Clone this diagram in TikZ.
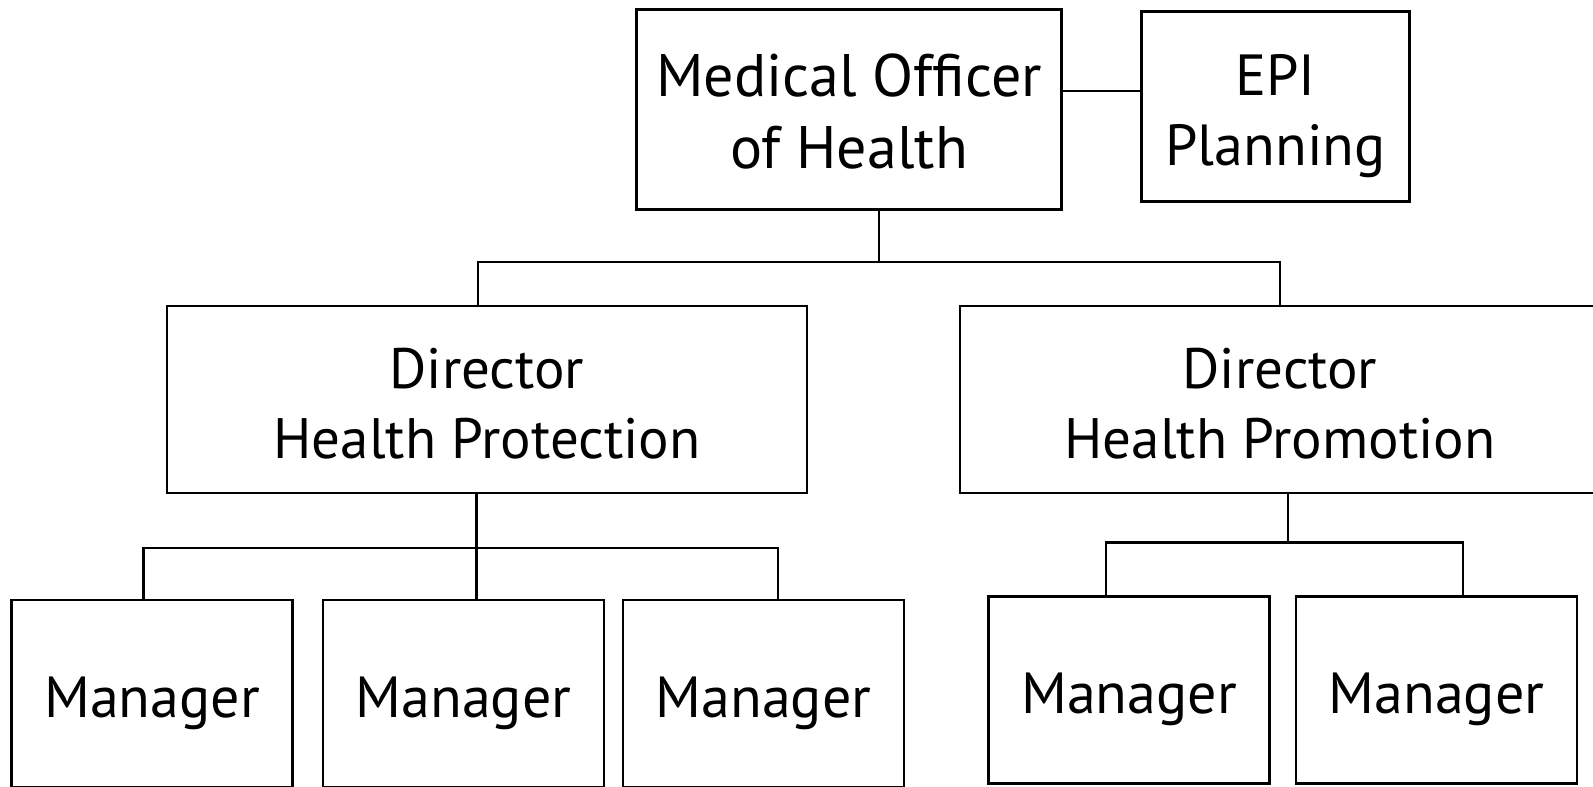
\documentclass[tikz,border=0pt]{standalone}
\usepackage{fontspec}
\setmainfont{PT Sans}
\begin{document}
\begin{tikzpicture}[x=1pt, y=-1pt]
    \tikzset{box/.style={draw, line width=2.6pt, align=center, inner sep=0pt, text depth=0pt, font=\fontsize{57}{70}\selectfont}}
    \tikzset{mgr/.style={box, minimum width=281pt, minimum height=187pt, text height=59pt, text depth=12pt, font=\fontsize{58}{70}\selectfont}}
    \useasboundingbox (0,0) rectangle (1593,787);
    \clip (0,0) rectangle (1593,787);
    \node[box, line width=3.4pt, minimum width=425pt, minimum height=200pt, text height=117pt, font=\fontsize{60}{72}\selectfont] (MOH) at (849,109.5) {Medical Officer\\of Health};
    \node[box, minimum width=268pt, minimum height=190pt, text height=118pt, font=\fontsize{58}{70}\selectfont] (EPI) at (1275.5,106.5) {EPI\\Planning};
    \node[box, minimum width=640pt, minimum height=187pt, text height=117pt] (DP1) at (487,399.5) {Director\\Health Protection};
    \node[box, minimum width=640pt, minimum height=187pt, text height=117pt] (DP2) at (1280,399.5) {Director\\Health Promotion};
    \foreach \n/\x/\y in {1/152/693.5, 2/463.5/693.5, 3/763.5/693.5, 4/1129/690, 5/1436.5/690}
        \node[mgr] (M\n) at (\x,\y) {Manager};
    \coordinate (E) at (1100,91);
    \coordinate (T) at (879,262);
    \coordinate (L) at (476.5,548);
    \coordinate (R) at (1288,542.5);
    \draw[line width=2.6pt] (MOH.east |- E) -- (EPI.west |- E);
    \draw[line width=2.6pt] (MOH.south -| T) -- (T);
    \draw[line width=2.6pt] ([xshift=-9pt]DP1.north) |- (T) -| (DP2.north);
    \draw[line width=2.6pt] (DP1.south -| L) -- (M2.north -| L);
    \draw[line width=2.6pt] ([xshift=-8.5pt]M1.north) |- (L) -| ([xshift=14.5pt]M3.north);
    \draw[line width=2.6pt] (DP2.south -| R) -- (R);
    \draw[line width=2.6pt] ([xshift=-23pt]M4.north) |- (R) -| ([xshift=26.5pt]M5.north);
\end{tikzpicture}
\end{document}
